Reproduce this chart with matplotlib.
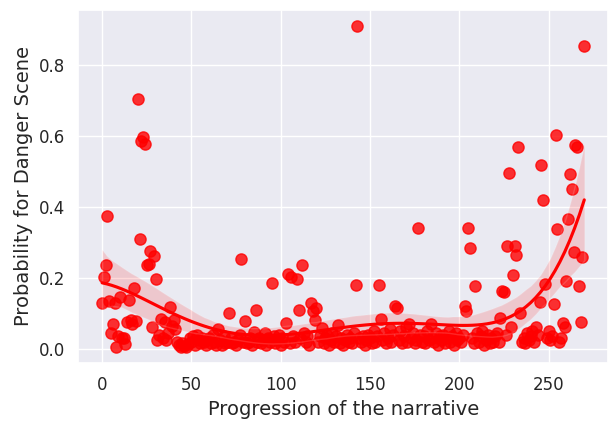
import numpy as np
import matplotlib
matplotlib.use("Agg")
import matplotlib.pyplot as plt
import seaborn as sns

# Wahrscheinlichkeit pro Szene (Index = Position in der Erzaehlung)
probs = [
    0.13, 0.203, 0.236, 0.375, 0.135, 0.045, 0.07, 0.13, 0.005, 0.035,
    0.146, 0.03, 0.03, 0.012, 0.075, 0.137, 0.08, 0.07, 0.17, 0.078,
    0.705, 0.31, 0.587, 0.596, 0.576, 0.235, 0.24, 0.275, 0.06, 0.261,
    0.196, 0.025, 0.04, 0.083, 0.03, 0.075, 0.025, 0.045, 0.118, 0.065,
    0.08, 0.055, 0.02, 0.01, 0.005, 0.015, 0.008, 0.005, 0.012, 0.03,
    0.02, 0.035, 0.01, 0.04, 0.025, 0.015, 0.03, 0.02, 0.01, 0.025,
    0.03, 0.015, 0.04, 0.02, 0.01, 0.055, 0.025, 0.01, 0.035, 0.015,
    0.02, 0.1, 0.03, 0.015, 0.02, 0.01, 0.025, 0.04, 0.253, 0.02,
    0.079, 0.015, 0.02, 0.03, 0.01, 0.047, 0.11, 0.02, 0.03, 0.015,
    0.025, 0.045, 0.01, 0.03, 0.02, 0.185, 0.035, 0.015, 0.025, 0.04,
    0.01, 0.03, 0.02, 0.072, 0.21, 0.015, 0.203, 0.035, 0.02, 0.196,
    0.11, 0.03, 0.237, 0.045, 0.02, 0.035, 0.01, 0.13, 0.105, 0.08,
    0.115, 0.02, 0.035, 0.058, 0.015, 0.03, 0.04, 0.01, 0.025, 0.045,
    0.02, 0.035, 0.068, 0.015, 0.03, 0.01, 0.025, 0.04, 0.02, 0.03,
    0.015, 0.045, 0.18, 0.91, 0.03, 0.02, 0.035, 0.01, 0.025, 0.04,
    0.03, 0.015, 0.05, 0.02, 0.035, 0.18, 0.084, 0.025, 0.045, 0.015,
    0.03, 0.055, 0.02, 0.04, 0.12, 0.115, 0.025, 0.05, 0.015, 0.035,
    0.06, 0.02, 0.07, 0.03, 0.045, 0.015, 0.025, 0.34, 0.04, 0.02,
    0.035, 0.015, 0.05, 0.025, 0.07, 0.03, 0.02, 0.045, 0.01, 0.035,
    0.025, 0.04, 0.015, 0.03, 0.05, 0.02, 0.035, 0.01, 0.045, 0.025,
    0.03, 0.02, 0.04, 0.12, 0.107, 0.34, 0.284, 0.03, 0.015, 0.177,
    0.045, 0.02, 0.035, 0.05, 0.01, 0.025, 0.04, 0.015, 0.03, 0.02,
    0.035, 0.045, 0.02, 0.087, 0.163, 0.16, 0.04, 0.29, 0.495, 0.062,
    0.208, 0.29, 0.264, 0.568, 0.1, 0.02, 0.03, 0.015, 0.045, 0.025,
    0.035, 0.05, 0.02, 0.06, 0.04, 0.133, 0.518, 0.42, 0.183, 0.03,
    0.05, 0.025, 0.035, 0.126, 0.603, 0.337, 0.02, 0.03, 0.073, 0.06,
    0.19, 0.367, 0.492, 0.45, 0.273, 0.575, 0.57, 0.176, 0.076, 0.26,
    0.854,
]
scene = np.arange(len(probs))

sns.set_theme(style="darkgrid")
plt.rcParams["xtick.labelsize"] = 12
plt.rcParams["ytick.labelsize"] = 12
plt.rcParams["axes.labelsize"] = 14

fig, ax = plt.subplots(figsize=(6.09, 4.23), dpi=100)
fig.subplots_adjust(left=78 / 609, right=0.999, top=1 - 10 / 423, bottom=60 / 423)
sns.regplot(x=scene, y=np.array(probs), order=5, color="red", ax=ax,
            scatter_kws={"s": 65}, seed=1)
ax.set_xlabel("Progression of the narrative")
ax.set_ylabel("Probability for Danger Scene")

plt.savefig("out.png", dpi=100)
